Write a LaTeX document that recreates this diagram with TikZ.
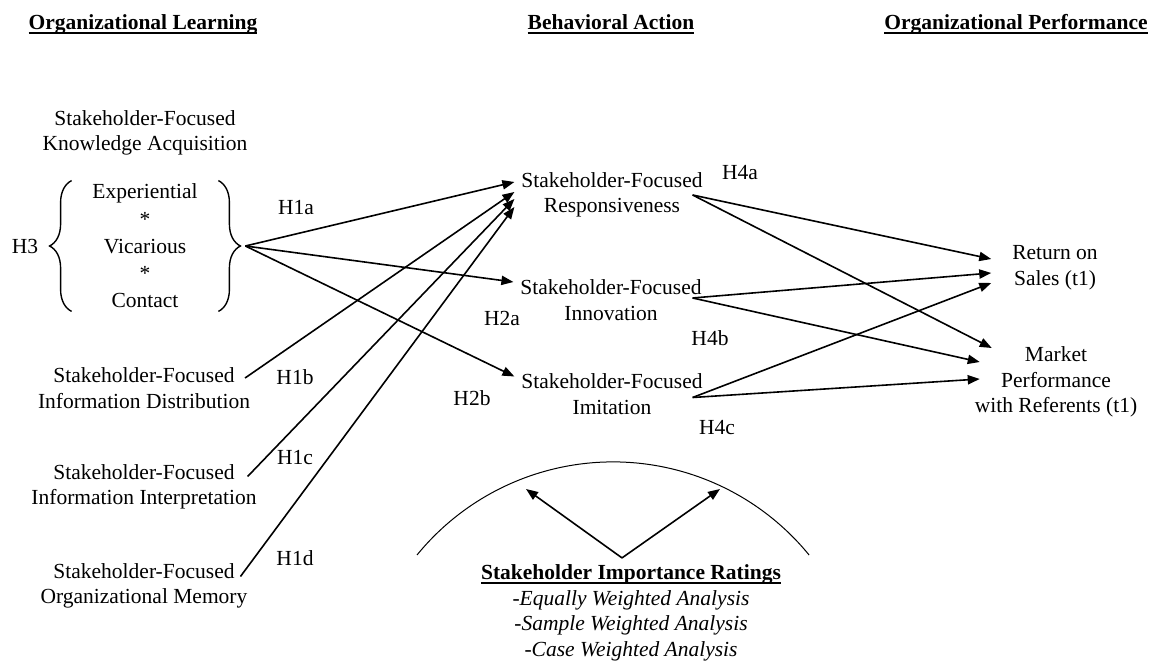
\documentclass[tikz,border=0pt]{standalone}
\usepackage{fontspec}
\setmainfont{Liberation Serif}
\usetikzlibrary{arrows.meta,decorations.pathreplacing}
\newsavebox\hdrbox
\newcommand\hdrul[1]{\sbox\hdrbox{#1}\rlap{\rule[-2.2pt]{\wd\hdrbox}{1.3pt}}\usebox\hdrbox}
\begin{document}
\begin{tikzpicture}[x=0.5pt,y=-0.5pt,
  font=\fontsize{10.75pt}{12.75pt}\selectfont,
  lbl/.style={align=center},
  arr/.style={line width=0.8pt,-{Triangle[length=6pt,width=4.6pt]}},
  brc/.style={decorate,decoration={brace,amplitude=11pt},line width=0.7pt}]
\useasboundingbox (0,0) rectangle (1151,662);
% headings
\node[anchor=base] (hdrLearn) at (143,30) {\hdrul{\textbf{Organizational Learning}}};
\node[anchor=base] (hdrAction) at (611,30) {\hdrul{\textbf{Behavioral Action}}};
\node[anchor=base] (hdrPerf) at (1016,30) {\hdrul{\textbf{Organizational Performance}}};
%
\node[lbl] (acq) at (145,133) {Stakeholder-Focused\\Knowledge Acquisition};
\node[lbl,font=\fontsize{10.75pt}{13.6pt}\selectfont,minimum width=73pt,minimum height=65pt,inner sep=0pt] (modes) at (145,246)
  {Experiential\\*\\Vicarious\\*\\Contact};
\draw[brc] (modes.south west) -- (modes.north west);
\draw[brc] (modes.north east) -- (modes.south east);
\coordinate (modesTip) at ([xshift=13.5pt]modes.east);
\node (h3) at (25,246) {H3};
\node[lbl] (dist) at (144,388) {Stakeholder-Focused\\Information Distribution};
\node[lbl] (interp) at (144,487) {Stakeholder-Focused\\Information Interpretation};
\node[lbl] (mem) at (144,586) {Stakeholder-Focused\\Organizational Memory};
%
\node[lbl] (resp) at (612,195) {Stakeholder-Focused\\Responsiveness};
\node[lbl] (innov) at (611,300) {Stakeholder-Focused\\Innovation};
\node[lbl] (imit) at (612,394) {Stakeholder-Focused\\Imitation};
\node[lbl] (ros) at (1055,268) {Return on\\Sales (t1)};
\node[lbl] (mkt) at (1056,382) {Market\\Performance\\with Referents (t1)};
%
\node (h1a) at (296,208) {H1a};
\node (h1b) at (295,377) {H1b};
\node (h1c) at (295,458) {H1c};
\node (h1d) at (295,558) {H1d};
\node (h2a) at (502,318) {H2a};
\node (h2b) at (472,398) {H2b};
\node (h4a) at (740,173) {H4a};
\node (h4b) at (710,338) {H4b};
\node (h4c) at (717,428) {H4c};
%
\draw[arr] (modesTip) -- ([yshift=6.5pt]resp.west);
\draw[arr] ([shift={(-6pt,5pt)}]dist.east) -- ([yshift=1.5pt]resp.west);
\draw[arr] ([shift={(-8pt,5.25pt)}]interp.east) -- ([yshift=-2pt]resp.west);
\draw[arr] ([shift={(-7pt,4.75pt)}]mem.east) -- ([yshift=-6pt]resp.west);
\draw[arr] (modesTip) -- ([yshift=9pt]innov.west);
\draw[arr] (modesTip) -- ([yshift=8.75pt]imit.west);
%
\draw[arr] ([xshift=-8.5pt]resp.east) -- ([shift={(-7pt,4.5pt)}]ros.west);
\draw[arr] ([xshift=-8.5pt]resp.east) -- ([shift={(12pt,17pt)}]mkt.west);
\draw[arr] ([shift={(-8pt,1pt)}]innov.east) -- ([shift={(-7pt,-2.5pt)}]ros.west);
\draw[arr] ([shift={(-8pt,1pt)}]innov.east) -- ([shift={(6pt,10pt)}]mkt.west);
\draw[arr] ([shift={(-8.5pt,-1.75pt)}]imit.east) -- ([shift={(-7pt,-7.5pt)}]ros.west);
\draw[arr] ([shift={(-8.5pt,-1.75pt)}]imit.east) -- ([shift={(6pt,1.5pt)}]mkt.west);
%
\node[lbl] (ratings) at (631,613) {\hdrul{\textbf{Stakeholder Importance Ratings}}\\
  \textit{-Equally Weighted Analysis}\\\textit{-Sample Weighted Analysis}\\\textit{-Case Weighted Analysis}};
\coordinate (apex) at ([xshift=-4.5pt]ratings.north);
\coordinate (ratingsL) at (526,489);
\coordinate (ratingsR) at (720,489);
\draw[arr] (apex) -- (ratingsL);
\draw[arr] (apex) -- (ratingsR);
\draw[line width=0.5pt] (417,555) arc[start angle=-140.8,end angle=-39.2,radius=253];
\end{tikzpicture}
\end{document}
